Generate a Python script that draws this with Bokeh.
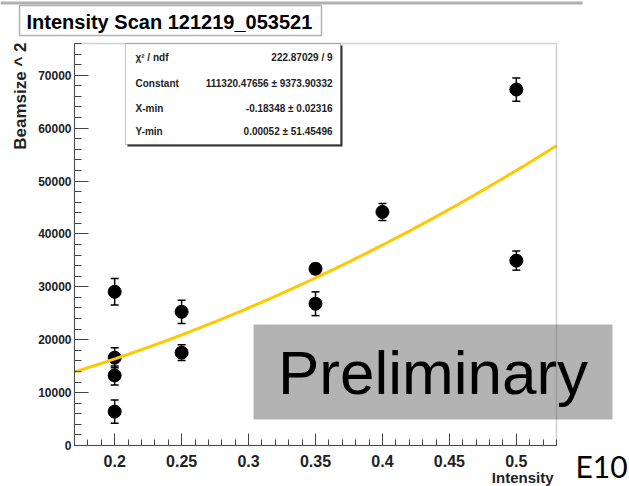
import numpy as np
from bokeh.plotting import figure
from bokeh.models import (ColumnDataSource, Whisker, TeeHead, Label, BoxAnnotation,
                          FixedTicker, Range1d)
from bokeh.embed import file_html
from bokeh.resources import INLINE

# ---------------- data ----------------
title_text = "Intensity Scan 121219_053521"
x_label = "Intensity"
y_label = "Beamsize ^ 2"
intensity = [0.2, 0.2, 0.2, 0.2, 0.25, 0.25, 0.35, 0.35, 0.4, 0.5, 0.5]
beamsize2 = [29060, 16600, 13250, 6400, 25280, 17550, 33400, 26800, 44150, 67300, 34950]
beamsize2_err = [2500, 1900, 1800, 2200, 2200, 1500, 1000, 2250, 1600, 2200, 1800]
fit_constant = 111320.47656
fit_xmin = -0.18348
fit_ymin = 0.00052
stats_names = ["χ² / ndf", "Constant", "X-min", "Y-min"]
stats_values = ["222.87029 / 9", "111320.47656 ± 9373.90332",
                "-0.18348 ± 0.02316", "0.00052 ± 51.45496"]
x_ticks = [0.2, 0.25, 0.3, 0.35, 0.4, 0.45, 0.5]
x_tick_labels = ["0.2", "0.25", "0.3", "0.35", "0.4", "0.45", "0.5"]
y_ticks = [0, 10000, 20000, 30000, 40000, 50000, 60000, 70000]
y_tick_labels = ["0", "10000", "20000", "30000", "40000", "50000", "60000", "70000"]
x_lim = (0.17, 0.53)
y_lim = (0, 76000)
overlay_text = "Preliminary"
corner_text = "E10"

# ---------------- layout (pixels) ----------------
W, H = 629, 486
FL, FR, FT, FB = 74, 556, 43, 445          # plot frame edges on the canvas
sx = (x_lim[1] - x_lim[0]) / (FR - FL)
sy = (y_lim[1] - y_lim[0]) / (FB - FT)
x_view = (x_lim[0] - FL * sx, x_lim[1] + (W - FR) * sx)
y_view = (y_lim[0] - (H - FB) * sy, y_lim[1] + FT * sy)

p = figure(width=W, height=H, x_range=Range1d(*x_view), y_range=Range1d(*y_view),
           output_backend="svg", toolbar_location=None,
           min_border=0, min_border_left=0, min_border_right=0,
           min_border_top=0, min_border_bottom=0)
p.grid.visible = False
p.outline_line_color = None
p.background_fill_color = "white"
p.border_fill_color = "white"

FONT = "Liberation Sans"

p.xaxis.ticker = FixedTicker(ticks=x_ticks,
                             minor_ticks=[round(0.17 + 0.01 * i, 2) for i in range(37)])
p.xaxis.major_label_overrides = {t: l for t, l in zip(x_ticks, x_tick_labels)}
p.yaxis.ticker = FixedTicker(ticks=y_ticks, minor_ticks=list(range(0, 76001, 2000)))
p.yaxis.major_label_overrides = {t: l for t, l in zip(y_ticks, y_tick_labels)}
p.xaxis.fixed_location = y_lim[0]
p.yaxis.fixed_location = x_lim[0]
p.xaxis.bounds = x_lim
p.yaxis.bounds = y_lim

for ax in (p.xaxis[0], p.yaxis[0]):
    ax.axis_line_color = "#444444"
    ax.major_tick_line_color = "#444444"
    ax.minor_tick_line_color = "#444444"
    ax.major_tick_out = 0
    ax.minor_tick_out = 0
    ax.major_label_text_font = FONT
    ax.major_label_text_font_style = "bold"
    ax.major_label_text_color = "#222222"

p.xaxis.major_tick_in = 12
p.xaxis.minor_tick_in = 6
p.xaxis.major_label_text_font_size = "16px"
p.xaxis.major_label_standoff = 9
p.yaxis.major_tick_in = 14
p.yaxis.minor_tick_in = 7
p.yaxis.major_label_text_font_size = "12px"
p.yaxis.major_label_standoff = 3

# fit curve
xs = np.linspace(x_lim[0], x_lim[1], 200)
ys = fit_constant * (xs - fit_xmin) ** 2 + fit_ymin

src = ColumnDataSource(dict(x=intensity, y=beamsize2,
                            lo=[v - e for v, e in zip(beamsize2, beamsize2_err)],
                            hi=[v + e for v, e in zip(beamsize2, beamsize2_err)]))
p.add_layout(Whisker(source=src, base="x", upper="hi", lower="lo",
                     line_color="black", line_width=1.5,
                     upper_head=TeeHead(size=8, line_color="black", line_width=1.5),
                     lower_head=TeeHead(size=8, line_color="black", line_width=1.5)))
p.scatter("x", "y", source=src, marker="circle", size=13, color="black")
p.line(xs, ys, line_color="#ffc800", line_width=3)

# ---------------- annotations (canvas px, y from top) ----------------
def box(l, r, t, b, **kw):
    p.add_layout(BoxAnnotation(left=l, right=r, top=t, bottom=b,
                               left_units="canvas", right_units="canvas",
                               top_units="canvas", bottom_units="canvas",
                               level="overlay", **kw))

def text(s, x, y, size, align="left", baseline="middle", style="normal",
         font=FONT, angle=0, color="black"):
    p.add_layout(Label(x=x, y=y, x_units="canvas", y_units="canvas", text=s,
                       text_font=font, text_font_size=size,
                       text_font_style=style, text_align=align,
                       text_baseline=baseline, angle=angle, text_color=color,
                       level="overlay"))

# slide edge line and title box
box(0, 582, 1, 4, fill_color="#b0b0b0", fill_alpha=1, line_alpha=0)
box(19, 321, 5, 35, fill_color="white", fill_alpha=1, line_color="black", line_width=1.5)
text(title_text, 26, 21, "20px", style="bold")

# stats box
box(127, 342, 45, 146, fill_color="#333333", fill_alpha=1, line_alpha=0)
box(125, 340, 43, 144, fill_color="white", fill_alpha=1, line_color="#333333", line_width=1)
rows_y = [57, 82.5, 107.5, 130.5]
for nm, vl, yy in zip(stats_names, stats_values, rows_y):
    text(nm, 135, yy, "10px", style="bold", color="#222222")
    text(vl, 332, yy, "10px", align="right", style="bold", color="#222222")

# axis titles
text(y_label, 20, 42, "17px", align="right", style="bold", angle=np.pi / 2, color="#222222")
text(x_label, 553, 477, "15px", align="right", style="bold", color="#222222")

# preliminary overlay (drawn across the frame edge)
box(253, 612, 324, 419, fill_color="#b3b3b3", fill_alpha=1, line_alpha=0)
text(overlay_text, 432.5, 372, "62px", align="center")

# frame outline (on top of overlay, as in the reference)
p.add_layout(BoxAnnotation(left=x_lim[0], right=x_lim[1], bottom=y_lim[0], top=y_lim[1],
                           fill_alpha=0, line_color="#666666", line_width=1.5,
                           level="overlay"))

text(corner_text, 575, 465, "30px", font="Lato")

open("out.html", "w").write(file_html(p, INLINE))
